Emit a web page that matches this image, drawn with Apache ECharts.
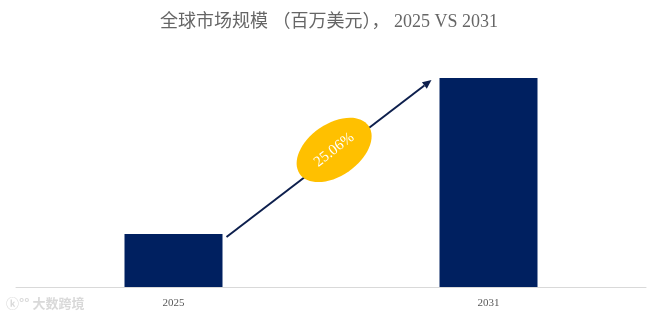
<!DOCTYPE html>
<html><head><meta charset="utf-8">
<script src="https://cdn.jsdelivr.net/npm/echarts@6/dist/echarts.min.js"></script>
<style>html,body{margin:0;padding:0;background:#fff}#c{width:658px;height:322px}</style>
</head><body><div id="c"></div>
<script>
const categories = ['2025', '2031'];
const marketValues = [100, 394];
const cagrLabel = '25.06%';
const titleText = '全球市场规模 （百万美元）， 2025 VS 2031';

const chart = echarts.init(document.getElementById('c'));
const serif = '"Liberation Serif", "Noto Sans CJK SC", serif';
chart.setOption({
  animation: false,
  title: {
    text: titleText, left: 'center', top: 8,
    textStyle: {fontFamily: serif, fontSize: 18, fontWeight: 'normal', color: '#666666'}
  },
  grid: {left: 16, right: 12, top: 78, bottom: 35},
  xAxis: {
    type: 'category', data: categories,
    axisLine: {lineStyle: {color: '#d9d9d9', width: 1}},
    axisTick: {show: false},
    axisLabel: {fontFamily: serif, fontSize: 11, color: '#595959', margin: 11}
  },
  yAxis: {type: 'value', min: 0, max: 'dataMax', show: false, splitLine: {show: false}},
  series: [{
    type: 'bar', data: marketValues, barWidth: 98,
    itemStyle: {color: '#002060'}
  }]
});

function drawOverlay() {
  const p0 = chart.convertToPixel({gridIndex: 0}, [0, marketValues[0]]);
  const p1 = chart.convertToPixel({gridIndex: 0}, [1, marketValues[1]]);
  const x0 = p0[0] + 53, y0 = p0[1] + 3;
  const x1 = p1[0] - 57, y1 = p1[1] + 2;
  const ang = Math.atan2(y1 - y0, x1 - x0);
  const hl = 9, hw = 4;
  const bx = x1 - hl * Math.cos(ang), by = y1 - hl * Math.sin(ang);
  const nx = -Math.sin(ang), ny = Math.cos(ang);
  const cx = x0 + (x1 - x0) * 0.525, cy = y0 + (y1 - y0) * 0.555;
  chart.setOption({
    graphic: [
      {type: 'line', shape: {x1: x0, y1: y0, x2: bx, y2: by}, style: {stroke: '#0d1f4d', lineWidth: 2}},
      {type: 'polygon', shape: {points: [[x1, y1], [bx + nx * hw, by + ny * hw], [bx - nx * hw, by - ny * hw]]}, style: {fill: '#0d1f4d'}},
      {type: 'ellipse', x: cx, y: cy, rotation: 35 * Math.PI / 180,
        shape: {cx: 0, cy: 0, rx: 42, ry: 26}, style: {fill: '#FFC000'}},
      {type: 'text', x: cx, y: cy, rotation: 38 * Math.PI / 180,
        style: {text: cagrLabel, fill: '#ffffff', fontFamily: 'Liberation Serif', fontSize: 15, align: 'center', verticalAlign: 'middle'}},
      {type: 'text', left: 6, top: 297,
        style: {text: 'ⓚ°° 大数跨境', fill: '#d9d9d9', fontFamily: 'Noto Sans CJK SC', fontWeight: 'bold', fontSize: 13}}
    ]
  });
}
drawOverlay();
</script></body></html>
